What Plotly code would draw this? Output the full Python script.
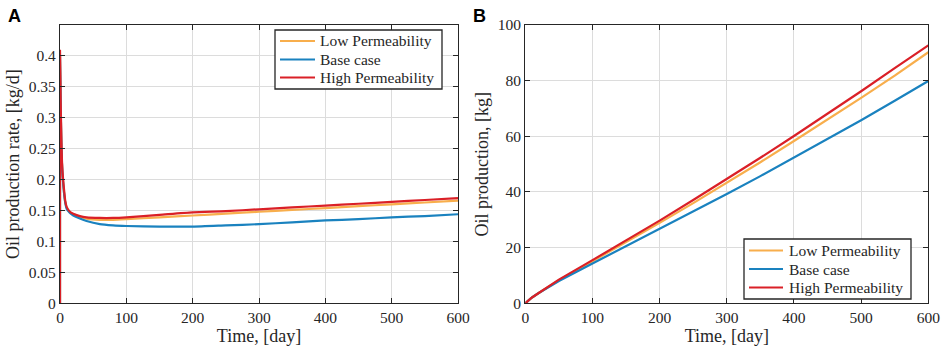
import plotly.graph_objects as go

# ---------------- data ----------------
series_names = ["Low Permeability", "Base case", "High Permeability"]
series_colors = ["#F8AE4C", "#1A82BF", "#DA2027"]

# Panel A: oil production rate [kg/d]
t_rate = [0, 0, 1, 2, 3, 4, 6, 8, 10, 15, 20, 30, 40, 60, 80, 100,
          150, 200, 250, 300, 350, 400, 450, 500, 550, 600]
rate_low = [0, 0.40, 0.32, 0.26, 0.225, 0.205, 0.180, 0.163, 0.155, 0.147, 0.144, 0.140,
            0.137, 0.135, 0.135, 0.136, 0.139, 0.142, 0.145, 0.148, 0.151, 0.154, 0.157,
            0.160, 0.163, 0.166]
rate_base = [0, 0.40, 0.32, 0.26, 0.225, 0.205, 0.179, 0.162, 0.153, 0.146, 0.142, 0.137,
             0.133, 0.128, 0.126, 0.125, 0.124, 0.124, 0.126, 0.128, 0.131, 0.134, 0.136,
             0.139, 0.141, 0.144]
rate_high = [0, 0.41, 0.33, 0.27, 0.23, 0.21, 0.185, 0.165, 0.156, 0.148, 0.145, 0.141,
             0.139, 0.138, 0.138, 0.139, 0.143, 0.147, 0.149, 0.152, 0.155, 0.158, 0.161,
             0.164, 0.167, 0.170]

# Panel B: cumulative oil production [kg]
t_cum = [0, 5, 10, 20, 50, 100, 150, 200, 250, 300, 350, 400, 450, 500, 550, 600]
cum_low = [0, 1.2, 2.1, 3.7, 8.3, 15.1, 21.9, 28.9, 36.0, 43.3, 50.7, 58.3, 66.0, 73.8, 81.8, 90.2]
cum_base = [0, 1.2, 2.1, 3.7, 8.0, 14.3, 20.5, 26.7, 33.0, 39.3, 45.7, 52.3, 59.0, 65.8, 72.8, 79.9]
cum_high = [0, 1.2, 2.1, 3.7, 8.5, 15.5, 22.5, 29.7, 37.1, 44.6, 52.3, 60.1, 68.1, 76.2, 84.5, 92.7]

x_ticks = [0, 100, 200, 300, 400, 500, 600]
yA_ticks = [0, 0.05, 0.1, 0.15, 0.2, 0.25, 0.3, 0.35, 0.4]
yA_labels = ["0", "0.05", "0.1", "0.15", "0.2", "0.25", "0.3", "0.35", "0.4"]
yB_ticks = [0, 20, 40, 60, 80, 100]

# ---------------- figure ----------------
W, H = 941, 353
FONT = "Liberation Serif"
TXT = "#262626"
fig = go.Figure()

for name, col, y in zip(series_names, series_colors, [rate_low, rate_base, rate_high]):
    fig.add_trace(go.Scatter(x=t_rate, y=y, name=name, mode="lines",
                             line=dict(color=col, width=2.2, shape="spline", smoothing=0.6),
                             xaxis="x", yaxis="y", showlegend=False))
for name, col, y in zip(series_names, series_colors, [cum_low, cum_base, cum_high]):
    fig.add_trace(go.Scatter(x=t_cum, y=y, name=name, mode="lines",
                             line=dict(color=col, width=2.2),
                             xaxis="x2", yaxis="y2", showlegend=False))

ax_common = dict(showline=True, linecolor=TXT, linewidth=1.3, mirror="ticks",
                 ticks="inside", ticklen=5, tickcolor=TXT, tickwidth=1.2,
                 showgrid=True, gridcolor="#DCDCDC", gridwidth=1, zeroline=False,
                 automargin=False,
                 tickfont=dict(family=FONT, size=15.5, color=TXT),
                 title_font=dict(family=FONT, size=18, color=TXT))

# legend boxes drawn in paper space (box px, line x0/x1, row y centres, text x)
shapes, annotations = [], []


def px_x(v):
    return v / W


def px_y(v):
    return 1 - v / H


def add_legend(box, lx0, lx1, rows, tx):
    x0, y0, x1, y1 = box
    shapes.append(dict(type="rect", xref="paper", yref="paper",
                       x0=px_x(x0), x1=px_x(x1), y0=px_y(y0), y1=px_y(y1),
                       line=dict(color=TXT, width=1.3), fillcolor="white", layer="above"))
    for name, col, ry in zip(series_names, series_colors, rows):
        shapes.append(dict(type="line", xref="paper", yref="paper",
                           x0=px_x(lx0), x1=px_x(lx1), y0=px_y(ry), y1=px_y(ry),
                           line=dict(color=col, width=2.2), layer="above"))
        annotations.append(dict(text=name, x=px_x(tx), y=px_y(ry), xref="paper", yref="paper",
                                xanchor="left", yanchor="middle", showarrow=False,
                                font=dict(family=FONT, size=15.5, color=TXT)))


add_legend((275, 30, 442, 89), 280, 315, [41, 59.5, 77.5], 318)
add_legend((744, 239, 911, 299), 749, 783, [250.5, 269, 287.5], 787)

annotations += [
    dict(text="<b>A</b>", x=6 / W, y=1 - 4 / H, xref="paper", yref="paper",
         xanchor="left", yanchor="top", showarrow=False,
         font=dict(family="Liberation Sans", size=18, color="black")),
    dict(text="<b>B</b>", x=471 / W, y=1 - 4 / H, xref="paper", yref="paper",
         xanchor="left", yanchor="top", showarrow=False,
         font=dict(family="Liberation Sans", size=18, color="black")),
]

fig.update_layout(
    width=W, height=H, margin=dict(l=0, r=0, t=0, b=0),
    paper_bgcolor="white", plot_bgcolor="white", showlegend=False,
    xaxis=dict(domain=[60 / W, 458 / W], range=[0, 600], tickvals=x_ticks,
               title=dict(text="Time, [day]", standoff=1), anchor="y", **ax_common),
    yaxis=dict(domain=[1 - 303.3 / H, 1 - 25 / H], range=[0, 0.45], tickvals=yA_ticks,
               ticktext=yA_labels, title=dict(text="Oil production rate, [kg/d]", standoff=4),
               anchor="x", **ax_common),
    xaxis2=dict(domain=[525.3 / W, 928.3 / W], range=[0, 600], tickvals=x_ticks,
                title=dict(text="Time, [day]", standoff=1), anchor="y2", **ax_common),
    yaxis2=dict(domain=[1 - 303.3 / H, 1 - 25 / H], range=[0, 100], tickvals=yB_ticks,
                title=dict(text="Oil production, [kg]", standoff=4), anchor="x2", **ax_common),
    shapes=shapes,
    annotations=annotations,
)

fig.write_html("out.html", post_script="document.body.style.margin='0';",
               config={"displayModeBar": False})
